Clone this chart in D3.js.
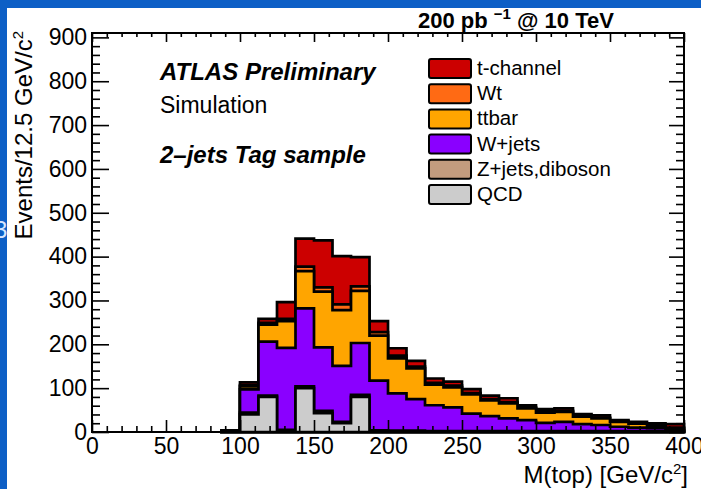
<!DOCTYPE html>
<html>
<head>
<meta charset="utf-8">
<script src="https://cdn.jsdelivr.net/npm/d3@7"></script>
<style>
  html, body { margin: 0; padding: 0; background: #0d5fc6; }
  svg { display: block; font-family: "Liberation Sans", Arial, Helvetica, sans-serif; }
</style>
</head>
<body>
<div id="chart"></div>
<script>
// lower edges of the 12.5 GeV bins that have entries
var binLow = [87.5, 100, 112.5, 125, 137.5, 150, 162.5, 175, 187.5, 200, 212.5, 225,
  237.5, 250, 262.5, 275, 287.5, 300, 312.5, 325, 337.5, 350, 362.5, 375, 387.5];
var binWidth = 12.5;

// events per bin, per sample
var qcd      = [1, 40, 80, 3, 100, 43, 20, 80, 2, 1, 1, 1, 1, 1, 1, 1, 1, 1, 1, 1, 1, 1, 1, 1, 0];
var zjets    = [0, 4, 3, 2, 4, 5, 3, 5, 2, 2, 2, 1, 1, 1, 1, 1, 1, 1, 1, 1, 1, 1, 1, 1, 1];
var wjets    = [1, 53, 123, 187, 178, 145, 128, 118, 113, 85, 72, 59, 54, 40, 34, 29, 25, 19, 21, 16, 14, 10, 8, 7, 3];
var ttbar    = [1, 7, 39, 61, 85, 127, 127, 119, 103, 80, 70, 47, 46, 44, 36, 34, 27, 23, 23, 17, 15, 11, 9, 5, 4];
var wt       = [0, 3, 4, 5, 10, 10, 13, 10, 8, 6, 4, 4, 4, 3, 3, 3, 2, 3, 2, 2, 2, 1, 1, 2, 2];
var tchannel = [0, 6, 9, 38, 64, 107, 110, 67, 25, 17, 13, 10, 9, 9, 8, 9, 5, 5, 6, 4, 5, 3, 3, 4, 8];

var sampleKeys   = ["qcd", "zjets", "wjets", "ttbar", "wt", "tchannel"];
var sampleNames  = ["QCD", "Z+jets,diboson", "W+jets", "ttbar", "Wt", "t-channel"];
var sampleColors = ["#cccccc", "#c39c7e", "#8a00ff", "#ffa500", "#ff6a14", "#cc0000"];

var xMajor = [0, 50, 100, 150, 200, 250, 300, 350, 400];
var yMajor = [0, 100, 200, 300, 400, 500, 600, 700, 800, 900];

var W = 701, H = 489;

var svg = d3.select("#chart").append("svg")
  .attr("width", W)
  .attr("height", H);

// slide background: blue border, white page
svg.append("rect").attr("width", W).attr("height", H).attr("fill", "#0d5fc6");
svg.append("text").attr("x", -6).attr("y", 238)
  .attr("font-size", 24).attr("fill", "#d8e6ff").text("3");
svg.append("rect").attr("x", 7).attr("y", 8).attr("width", W - 7).attr("height", H - 8)
  .attr("fill", "#ffffff");

var x = d3.scaleLinear().domain([0, 400]).range([92, 684]);
var y = d3.scaleLinear().domain([0, 910]).range([432, 33]);

// stack the samples bin by bin
var rows = binLow.map(function(lo, i) {
  return { lo: lo, qcd: qcd[i], zjets: zjets[i], wjets: wjets[i],
    ttbar: ttbar[i], wt: wt[i], tchannel: tchannel[i] };
});
var stacked = d3.stack().keys(sampleKeys)(rows);

var area = d3.area()
  .x(function(d) { return x(d[0]); })
  .y0(y(0))
  .y1(function(d) { return y(d[1]); });

// ROOT style: every cumulative histogram filled down to zero, largest first
var layers = svg.append("g");
stacked.slice().reverse().forEach(function(layer) {
  var pts = [];
  layer.forEach(function(d) {
    pts.push([d.data.lo, d[1]]);
    pts.push([d.data.lo + binWidth, d[1]]);
  });
  layers.append("path")
    .attr("d", area(pts))
    .attr("fill", sampleColors[layer.index])
    .attr("stroke", "#000")
    .attr("stroke-width", 2.7)
    .attr("stroke-linejoin", "miter");
});

///////////////////////// axes (ticks on all four sides) /////////////////////////

var xMinor = d3.range(0, 401, 10).filter(function(v) { return v % 50 !== 0; });
var yMinor = d3.range(0, 901, 20).filter(function(v) { return v % 100 !== 0; });

function styleAxis(g) {
  g.select(".domain").remove();
  g.selectAll("line").attr("stroke", "#000").attr("stroke-width", 1.6);
  g.selectAll("text").attr("fill", "#000").attr("font-size", 23)
    .attr("font-family", "\"Liberation Sans\", Arial, sans-serif");
}

svg.append("g").attr("transform", "translate(0," + y(0) + ")")
  .call(d3.axisBottom(x).tickValues(xMajor).tickSize(-12).tickPadding(6).tickFormat(d3.format("d")))
  .call(styleAxis);
svg.append("g").attr("transform", "translate(0," + y(0) + ")")
  .call(d3.axisBottom(x).tickValues(xMinor).tickSize(-6).tickFormat(""))
  .call(styleAxis);

svg.append("g").attr("transform", "translate(0," + y.range()[1] + ")")
  .call(d3.axisTop(x).tickValues(xMajor).tickSize(-9).tickFormat(""))
  .call(styleAxis);
svg.append("g").attr("transform", "translate(0," + y.range()[1] + ")")
  .call(d3.axisTop(x).tickValues(xMinor).tickSize(-4).tickFormat(""))
  .call(styleAxis);

svg.append("g").attr("transform", "translate(" + x(0) + ",0)")
  .call(d3.axisLeft(y).tickValues(yMajor).tickSize(-17).tickPadding(5).tickFormat(d3.format("d")))
  .call(styleAxis);
svg.append("g").attr("transform", "translate(" + x(0) + ",0)")
  .call(d3.axisLeft(y).tickValues(yMinor).tickSize(-8).tickFormat(""))
  .call(styleAxis);

svg.append("g").attr("transform", "translate(" + x(400) + ",0)")
  .call(d3.axisRight(y).tickValues(yMajor).tickSize(-15).tickFormat(""))
  .call(styleAxis);
svg.append("g").attr("transform", "translate(" + x(400) + ",0)")
  .call(d3.axisRight(y).tickValues(yMinor).tickSize(-8).tickFormat(""))
  .call(styleAxis);

// frame
svg.append("rect")
  .attr("x", x(0)).attr("y", y.range()[1])
  .attr("width", x(400) - x(0)).attr("height", y(0) - y.range()[1])
  .attr("fill", "none").attr("stroke", "#000").attr("stroke-width", 2);

///////////////////////// titles and labels /////////////////////////

var lumi = svg.append("text").attr("x", 418).attr("y", 28)
  .attr("font-size", 22).attr("font-weight", "bold").attr("fill", "#000");
lumi.append("tspan").text("200 pb ");
lumi.append("tspan").attr("dy", -9).attr("font-size", 15).text("\u22121");
lumi.append("tspan").attr("dy", 9).text(" @ 10 TeV");

var ytitle = svg.append("text")
  .attr("transform", "translate(32,31) rotate(-90)")
  .attr("text-anchor", "end").attr("font-size", 24).attr("fill", "#000");
ytitle.append("tspan").text("Events/12.5 GeV/c");
ytitle.append("tspan").attr("dy", -9).attr("font-size", 15).text("2");

var xtitle = svg.append("text")
  .attr("x", 688).attr("y", 483)
  .attr("text-anchor", "end").attr("font-size", 24).attr("fill", "#000");
xtitle.append("tspan").text("M(top) [GeV/c");
xtitle.append("tspan").attr("dy", -9).attr("font-size", 15).text("2");
xtitle.append("tspan").attr("dy", 9).text("]");

svg.append("text").attr("x", 160).attr("y", 80)
  .attr("font-size", 24).attr("font-weight", "bold").attr("font-style", "italic")
  .text("ATLAS Preliminary");
svg.append("text").attr("x", 160).attr("y", 113)
  .attr("font-size", 23).text("Simulation");
svg.append("text").attr("x", 160).attr("y", 163)
  .attr("font-size", 24).attr("font-weight", "bold").attr("font-style", "italic")
  .text("2\u2013jets Tag sample");

// legend, top entry is the top of the stack
var legend = svg.append("g");
var legendOrder = d3.range(sampleKeys.length).reverse();
legendOrder.forEach(function(k, i) {
  var top = 59 + i * 25.2;
  legend.append("rect")
    .attr("x", 429).attr("y", top).attr("width", 42).attr("height", 19)
    .attr("rx", 2)
    .attr("fill", sampleColors[k]).attr("stroke", "#000").attr("stroke-width", 2);
  legend.append("text")
    .attr("x", 477).attr("y", top + 16)
    .attr("font-size", 20.5).attr("fill", "#000")
    .text(sampleNames[k]);
});
</script>
</body>
</html>
